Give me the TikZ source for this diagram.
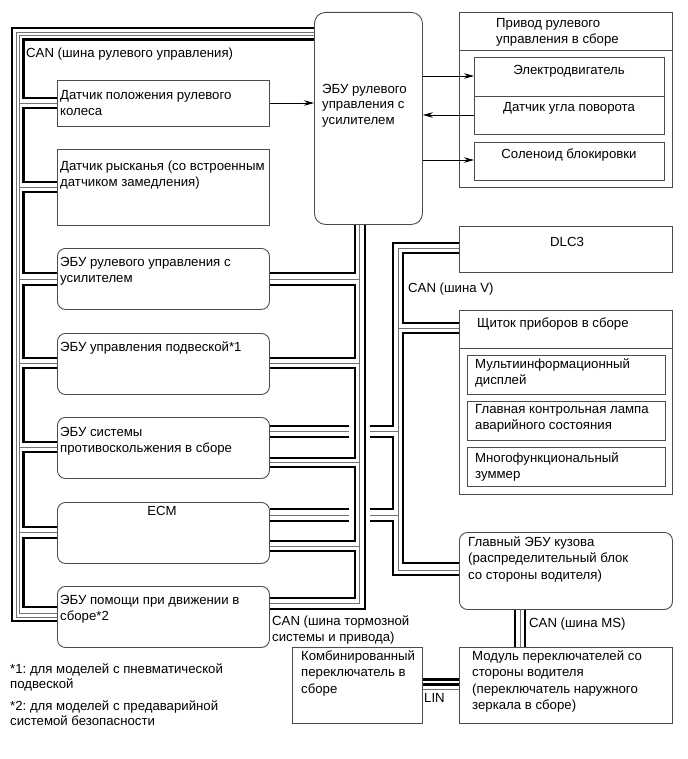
\documentclass[tikz,border=0pt]{standalone}
\usepackage{fontspec}
\setmainfont{Liberation Sans}
\usetikzlibrary{arrows.meta}
\definecolor{boxc}{gray}{0.3}
\definecolor{thinc}{gray}{0.45}
\newcommand{\fs}{\fontsize{13.2}{16.5}\selectfont}
\newcommand{\fsn}{\fontsize{13.2}{15.5}\selectfont}
\newcommand{\hstrut}{\rule{0pt}{11pt}}
\frenchspacing
\begin{document}
\begin{tikzpicture}[x=1pt,y=-1pt,
 box/.style={draw=boxc, line width=0.9pt, inner sep=0pt, anchor=north west},
 rbox/.style={box, rounded corners=8pt},
 txt/.style={anchor=north west, inner sep=0pt, align=left, font=\fs},
 ntxt/.style={anchor=north west, inner sep=0pt, align=left, font=\fsn},
 ctxt/.style={anchor=north, inner sep=0pt, align=center, font=\fs},
 thk/.style={line width=2.6pt, black},
 thn/.style={line width=0.8pt, thinc},
 divl/.style={draw=boxc, line width=0.9pt},
 arr/.style={-{Stealth[length=10pt,width=5.5pt]}, line width=0.8pt, black}]
\useasboundingbox (0,0) rectangle (687,759);

% ---- left column boxes
\node[box, minimum width=212pt, minimum height=46pt] (b1) at (57,80) {};
\node[box, minimum width=212pt, minimum height=76pt] (b2) at (57,149) {};
\node[rbox, minimum width=212pt, minimum height=61pt] (b3) at (57,248) {};
\node[rbox, minimum width=212pt, minimum height=61pt] (b4) at (57,333) {};
\node[rbox, minimum width=212pt, minimum height=61pt] (b5) at (57,417) {};
\node[rbox, minimum width=212pt, minimum height=61pt] (ecm) at (57,502) {};
\node[rbox, minimum width=212pt, minimum height=61pt] (b7) at (57,586) {};

% ---- EPS ECU
\node[box, rounded corners=11pt, minimum width=108pt, minimum height=212pt] (eps) at (314,12) {};

% ---- steering gear assembly
\node[box, minimum width=213pt, minimum height=175pt] (priv) at (459,12) {};
\draw[divl] (priv.west|-0,50) -- (priv.east|-0,50);
\node[box, minimum width=190pt, minimum height=39pt] (motor) at (474,57) {};
\node[box, minimum width=190pt, minimum height=38pt] (angle) at (474,96) {};
\node[box, minimum width=190pt, minimum height=38pt] (sol) at (474,142) {};

% ---- right lower boxes
\node[box, minimum width=213pt, minimum height=46pt] (dlc) at (459,226) {};
\node[box, minimum width=213pt, minimum height=184pt] (sch) at (459,310) {};
\draw[divl] (sch.west|-0,348) -- (sch.east|-0,348);
\node[box, minimum width=198pt, minimum height=39pt] (mfd) at (467,355) {};
\node[box, minimum width=198pt, minimum height=39pt] (lamp) at (467,401) {};
\node[box, minimum width=198pt, minimum height=39pt] (buz) at (467,447) {};
\node[rbox, minimum width=213pt, minimum height=77pt] (gl) at (459,532) {};
\node[box, minimum width=213pt, minimum height=76pt] (mod) at (459,647) {};
\node[box, minimum width=130pt, minimum height=76pt] (comb) at (292,647) {};

% ---- texts
\node[txt] (t1) at (60,88) {\hstrut Датчик положения рулевого\\колеса};
\node[txt] (t2) at (60,159) {\hstrut Датчик рысканья (со встроенным\\датчиком замедления)};
\node[txt] (t3) at (60,255) {\hstrut ЭБУ рулевого управления с\\усилителем};
\node[txt] (t4) at (60,340) {\hstrut ЭБУ управления подвеской*1};
\node[txt] (t5) at (60,425) {\hstrut ЭБУ системы\\противоскольжения в сборе};
\node[ctxt] (tecm) at (162,504) {\hstrut ECM};
\node[txt] (t7) at (60,593) {\hstrut ЭБУ помощи при движении в\\сборе*2};
\node[ntxt] (teps) at (322,82) {\hstrut ЭБУ рулевого\\управления с\\усилителем};
\node[txt] (tpriv) at (496,16) {\hstrut Привод рулевого\\управления в сборе};
\node[ctxt] (tmotor) at (569,63) {\hstrut Электродвигатель};
\node[ctxt] (tangle) at (569,100) {\hstrut Датчик угла поворота};
\node[ctxt] (tsol) at (569,147) {\hstrut Соленоид блокировки};
\node[ctxt] (tdlc) at (567,235) {\hstrut DLC3};
\node[txt] (tcanv) at (408,281) {\hstrut CAN (шина V)};
\node[txt] (tsch) at (477,316) {\hstrut Щиток приборов в сборе};
\node[txt] (tmfd) at (475,357) {\hstrut Мультиинформационный\\дисплей};
\node[txt] (tlamp) at (475,402) {\hstrut Главная контрольная лампа\\аварийного состояния};
\node[txt] (tbuz) at (475,451) {\hstrut Многофункциональный\\зуммер};
\node[txt] (tgl) at (468,535) {\hstrut Главный ЭБУ кузова\\(распределительный блок\\со стороны водителя)};
\node[txt] (tms) at (529,616) {\hstrut CAN (шина MS)};
\node[txt] (tmod) at (472,649) {\hstrut Модуль переключателей со\\стороны водителя\\(переключатель наружного\\зеркала в сборе)};
\node[txt] (tcomb) at (301,649) {\hstrut Комбинированный\\переключатель в\\сборе};
\node[txt] (tlin) at (424,691) {\hstrut LIN};
\node[txt] (tbrake) at (272,614) {\hstrut CAN (шина тормозной\\системы и привода)};
\node[txt] (tcans) at (26,46) {\hstrut CAN (шина рулевого управления)};
\node[ntxt] (fn1) at (10,662) {\hstrut *1: для моделей с пневматической\\подвеской};
\node[ntxt] (fn2) at (10,699) {\hstrut *2: для моделей с предаварийной\\системой безопасности};

% ---- arrows
\draw[arr] (b1.east|-0,103) -- (eps.west|-0,103);
\draw[arr] (eps.east|-0,76) -- (motor.west|-0,76);
\draw[arr] (angle.west|-0,115) -- (eps.east|-0,115);
\draw[arr] (eps.east|-0,160) -- (sol.west|-0,160);

% ---- steering CAN bus (left trunk)
\draw[thk] (eps.west|-0,28) -- (12,28) -- (12,621) -- (b7.west|-0,621);
\draw[thn] (eps.west|-0,32) -- (16,32) -- (16,617) -- (b7.west|-0,617);
\draw[thn] (eps.west|-0,35.5) -- (19.5,35.5) -- (19.5,613) -- (b7.west|-0,613);
\foreach \n/\y in {b1/103,b2/187,b3/279,b4/363,b5/447,ecm/532.5}
  \draw[thn] (19.5,\y) -- (\n.west|-0,\y);
\draw[thk] (eps.west|-0,39.5) -- (23.5,39.5) -- (23.5,98) -- (b1.west|-0,98);
\foreach \a/\ya/\b/\yb in {b1/108/b2/182, b2/192/b3/273, b3/285/b4/358, b4/368/b5/442, b5/452/ecm/527, ecm/538/b7/607}
  \draw[thk] (\a.west|-0,\ya) -- (23.5,\ya) -- (23.5,\yb) -- (\b.west|-0,\yb);

% ---- brake/drive CAN bus
\draw[thk] (eps.south -| 365,0) -- (365,609) -- (b7.east|-0,609);
\draw[thn] (eps.south -| 359.5,0) -- (359.5,603) -- (b7.east|-0,603);
\foreach \n/\y in {b3/279,b4/363,b5/462.5,ecm/546}
  \draw[thn] (359.5,\y) -- (\n.east|-0,\y);
\draw[thk] (eps.south -| 355,0) -- (355,273) -- (b3.east|-0,273);
\foreach \a/\ya/\b/\yb in {b3/285/b4/358, b4/368/b5/458, b5/467/ecm/541, ecm/551/b7/598}
  \draw[thk] (\a.east|-0,\ya) -- (355,\ya) -- (355,\yb) -- (\b.east|-0,\yb);

% ---- CAN V bus
\draw[thk] (dlc.west|-0,243) -- (393,243) -- (393,426) -- (370,426);
\draw[thk] (370,437) -- (393,437) -- (393,509) -- (370,509);
\draw[thk] (370,521) -- (393,521) -- (393,575) -- (gl.west|-0,575);
\foreach \n/\y in {b5/426,b5/437,ecm/509,ecm/521}
  \draw[thk] (349,\y) -- (\n.east|-0,\y);
\draw[thn] (dlc.west|-0,248) -- (398,248) -- (398,570) -- (gl.west|-0,570);
\draw[thn] (398,328) -- (sch.west|-0,328);
\draw[thn] (398,431.5) -- (370,431.5);
\draw[thn] (349,431.5) -- (b5.east|-0,431.5);
\draw[thn] (398,515) -- (370,515);
\draw[thn] (349,515) -- (ecm.east|-0,515);
\draw[thk] (dlc.west|-0,253) -- (403,253) -- (403,323) -- (sch.west|-0,323);
\draw[thk] (sch.west|-0,333) -- (403,333) -- (403,563) -- (gl.west|-0,563);

% ---- CAN MS
\draw[thk] (gl.south -| 515,0) -- (mod.north -| 515,0);
\draw[thn] (gl.south -| 520,0) -- (mod.north -| 520,0);
\draw[thk] (gl.south -| 525,0) -- (mod.north -| 525,0);

% ---- LIN
\draw[thk] (comb.east|-0,679.5) -- (mod.west|-0,679.5);
\draw[thk] (comb.east|-0,684.5) -- (mod.west|-0,684.5);
\draw[thn] (comb.east|-0,689) -- (mod.west|-0,689);
\end{tikzpicture}
\end{document}
